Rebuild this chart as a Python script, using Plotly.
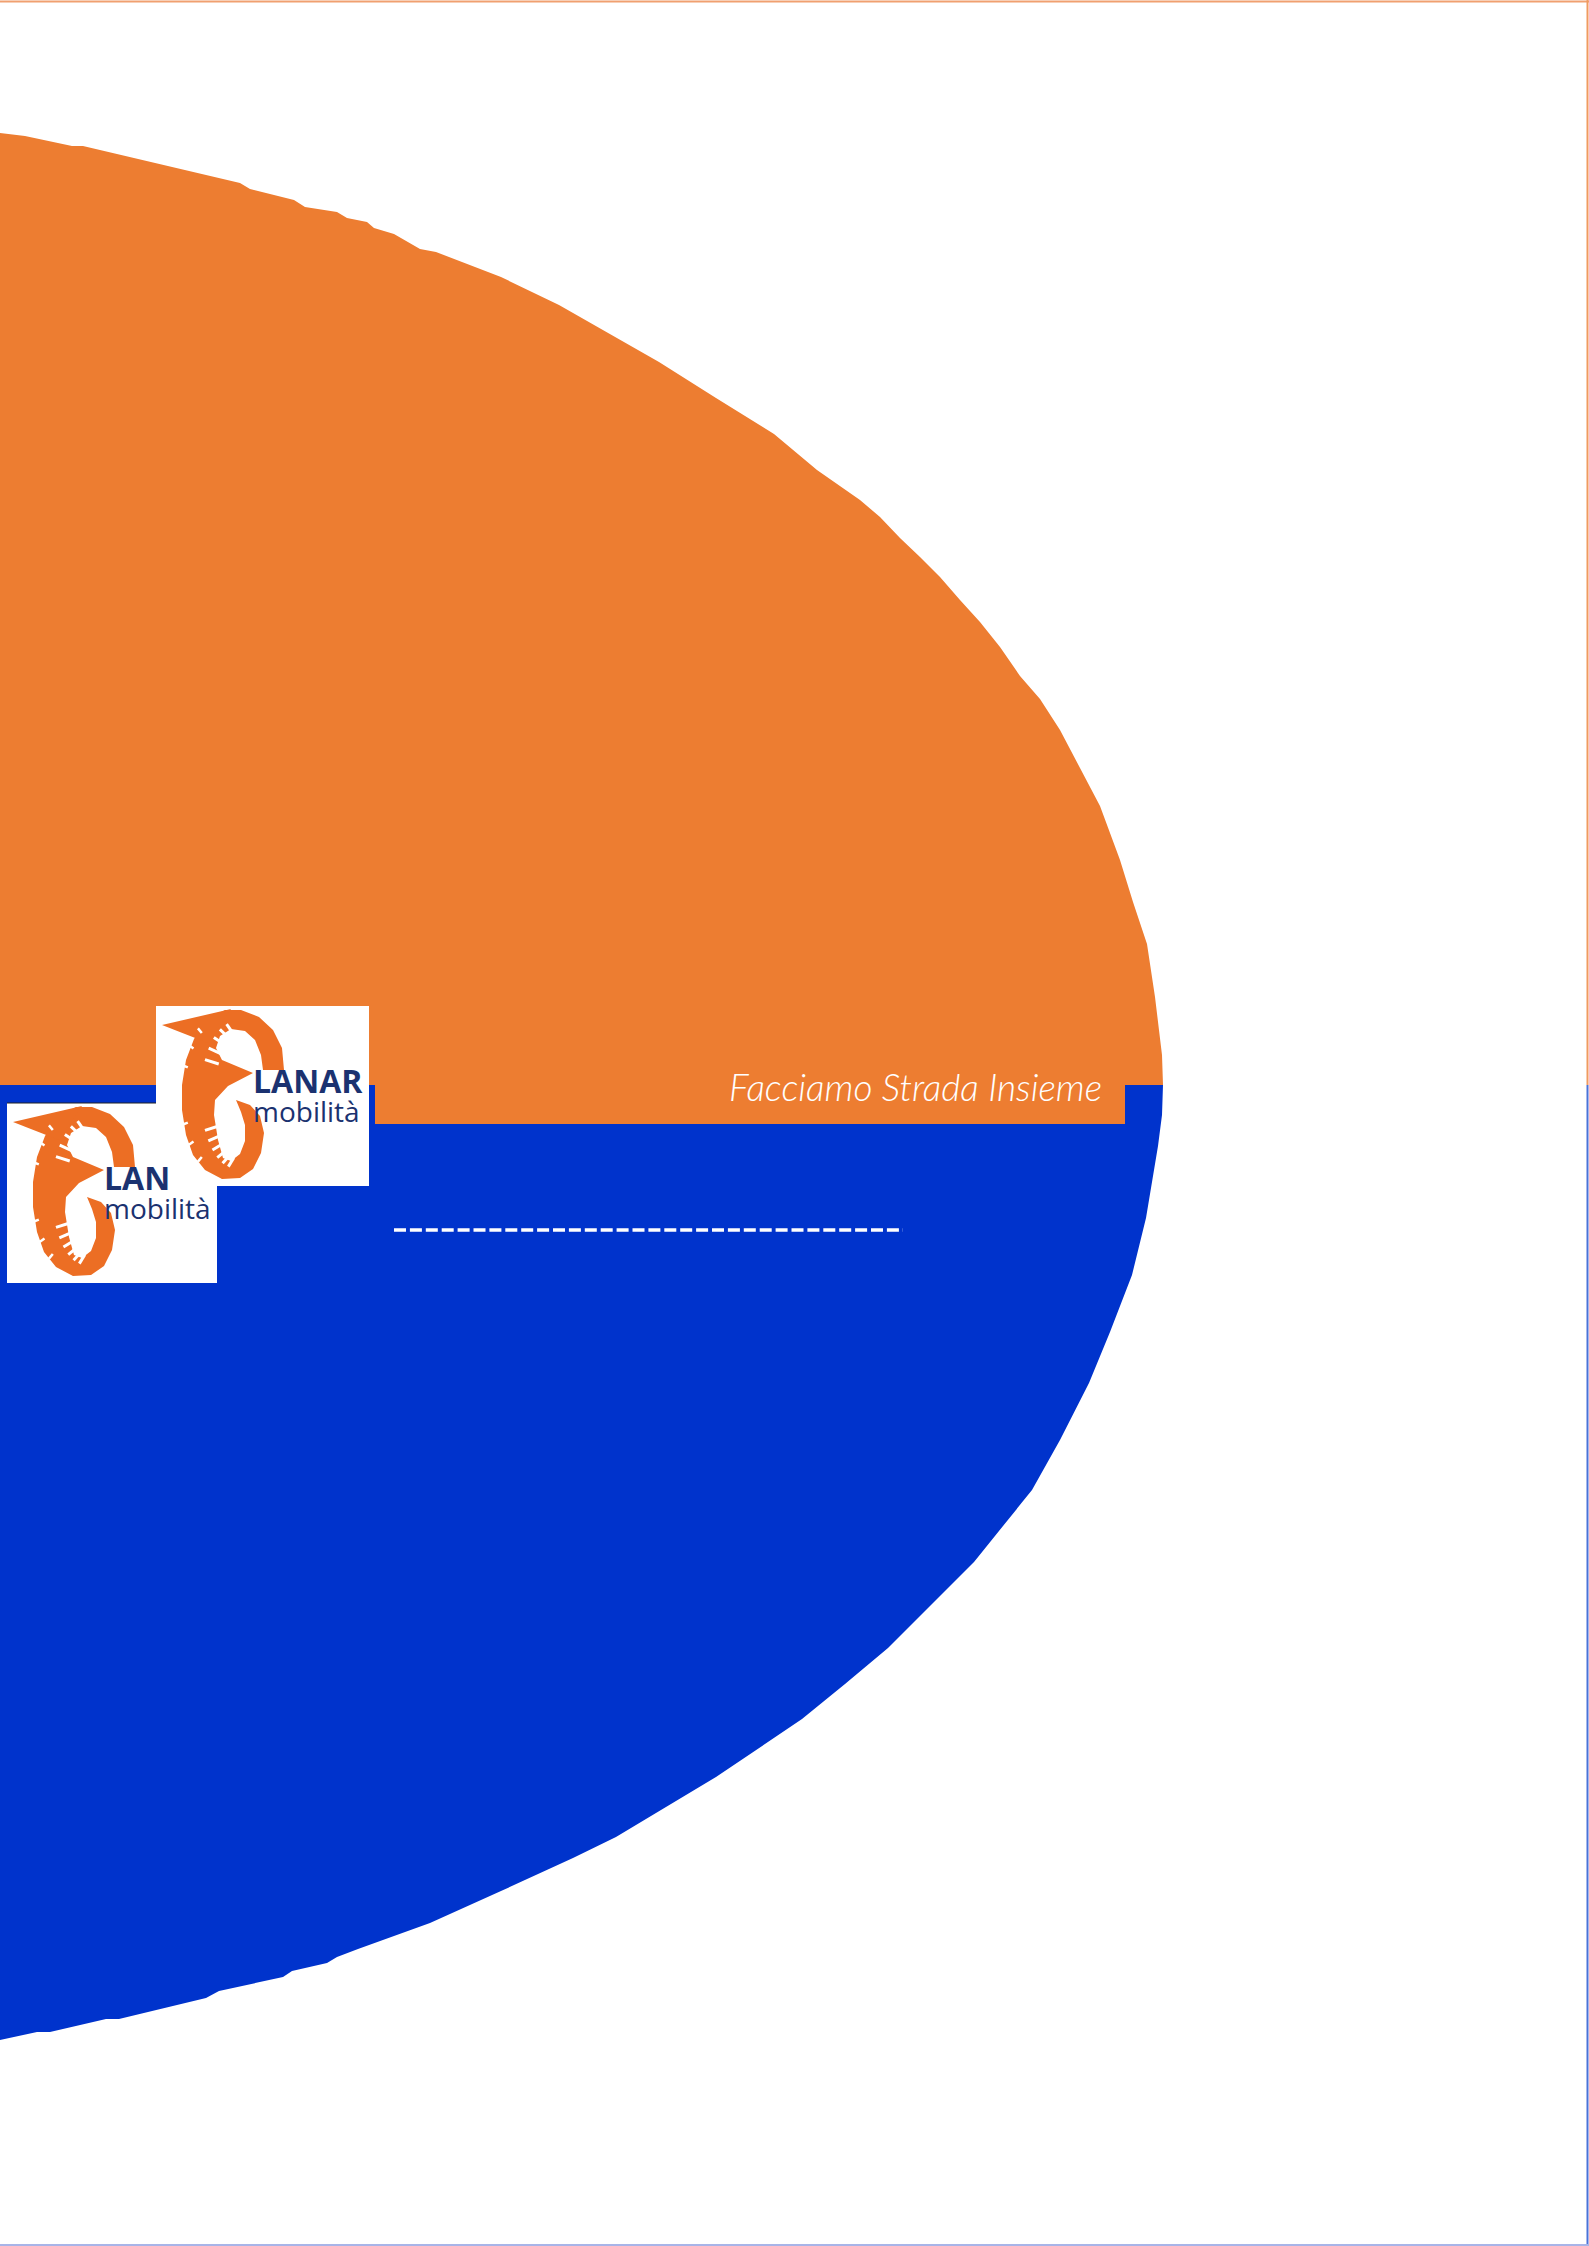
import math
import plotly.graph_objects as go

# ---------------- data (page pixel coordinates) -------------
TOP_X = [0, 25, 72, 83, 240, 250, 294, 305, 337, 347, 367, 374, 394, 410, 420, 436,
         501, 559, 616, 659, 716, 774, 817, 860, 880, 900, 920, 940, 960, 980, 1000, 1020,
         1040, 1060, 1080, 1100, 1120, 1133, 1147, 1155, 1162, 1163]
TOP_Y = [133, 136, 146, 146, 183, 189, 200, 207, 212, 218, 222, 228, 234, 243, 249, 252,
         277, 305, 337, 362, 398, 434, 470, 500, 517, 538, 557, 577, 600, 622, 647, 676,
         699, 730, 768, 806, 860, 902, 944, 997, 1055, 1085]
BOT_X = [1163, 1162, 1158, 1146, 1132, 1110, 1089, 1060, 1032, 1003, 974, 931, 888, 845, 802,
         716, 616, 573, 501, 430, 358, 337, 327, 292, 283, 219, 206, 119, 106, 50, 37, 0]
BOT_Y = [1085, 1115, 1146, 1218, 1275, 1332, 1383, 1440, 1490, 1526, 1562, 1605, 1648, 1684,
         1719, 1777, 1837, 1858, 1891, 1923, 1949, 1957, 1963, 1971, 1977, 1991, 1998, 2019,
         2019, 2032, 2032, 2040]
MID_Y = 1085

SLOGAN = "Facciamo Strada Insieme"
LOGO_WORD = "LANAR"
LOGO_WORD_CUT = "LAN"
LOGO_SUB = "mobilità"

ORANGE = "#ED7D31"
LOGO_ORANGE = "#EC6E24"
BLUE = "#0033CC"
NAVY = "#1B3270"
W, H = 1589, 2246

# outline of the "C" emblem of the logo (front logo coordinates)
C_OUTLINE = [(284, 1070), (282, 1048), (273, 1030), (259, 1017), (241, 1010), (225, 1010),
             (206, 1020), (194, 1039), (186, 1060), (182, 1085), (182, 1110), (186, 1135),
             (193, 1155), (205, 1170), (222, 1179), (240, 1178), (253, 1169), (261, 1153),
             (264, 1133), (260, 1116), (250, 1105), (236, 1100), (241, 1112), (245, 1125),
             (245, 1141), (240, 1154), (231, 1161), (223, 1158), (218, 1140), (214, 1115),
             (215, 1100), (228, 1086), (253, 1073), (222, 1060), (216, 1048), (220, 1036),
             (231, 1029), (245, 1031), (255, 1040), (261, 1055), (263, 1070)]
ARROW_HEAD = [(162, 1025), (231, 1009), (208, 1043)]

fig = go.Figure()

# upper (orange) half of the ellipse
fig.add_trace(go.Scatter(
    x=TOP_X + [0], y=TOP_Y + [MID_Y], mode="lines", fill="toself",
    fillcolor=ORANGE, line=dict(width=0, color=ORANGE), hoverinfo="skip", showlegend=False))
# lower (blue) half
fig.add_trace(go.Scatter(
    x=[0] + BOT_X[::-1], y=[MID_Y] + BOT_Y[::-1],
    mode="lines", fill="toself",
    fillcolor=BLUE, line=dict(width=0, color=BLUE), hoverinfo="skip", showlegend=False))

shapes = []
annotations = []

# orange slogan strip
shapes.append(dict(type="rect", x0=375, x1=1125, y0=MID_Y - 1, y1=1124,
                   fillcolor=ORANGE, line=dict(width=0)))

# white dashed rule
shapes.append(dict(type="line", x0=394, x1=903, y0=1230, y1=1230,
                   line=dict(color="white", width=3.5, dash="12px,3.9px")))

# page border
shapes.append(dict(type="line", x0=0, x1=W, y0=1.5, y1=1.5, line=dict(color="#F0A070", width=2)))
shapes.append(dict(type="line", x0=W - 1.5, x1=W - 1.5, y0=0, y1=MID_Y, line=dict(color="#F09A60", width=2)))
shapes.append(dict(type="line", x0=W - 1.5, x1=W - 1.5, y0=MID_Y, y1=H, line=dict(color="#4A72D8", width=2)))
shapes.append(dict(type="line", x0=0, x1=W, y0=H - 1, y1=H - 1, line=dict(color="#A8B4E8", width=2)))


def poly(pts, dx, dy):
    return "M " + " L ".join(f"{x + dx:.1f},{y + dy:.1f}" for x, y in pts) + " Z"


def logo(dx, dy, x_right):
    s = []
    s.append(dict(type="rect", x0=156 + dx, x1=x_right + dx, y0=1006 + dy, y1=1186 + dy,
                  fillcolor="white", line=dict(width=0)))
    s.append(dict(type="path", path=poly(C_OUTLINE, dx, dy), fillcolor=LOGO_ORANGE, line=dict(width=0)))
    s.append(dict(type="path", path=poly(ARROW_HEAD, dx, dy), fillcolor=LOGO_ORANGE, line=dict(width=0)))
    # teeth slots cut from the hole into the band
    for ang in [104, 116, 128, 140, 151, 209, 219, 229, 239, 249, 259]:
        a = math.radians(ang)
        xi, yi = 238 + 22 * math.cos(a), 1095 - 64 * math.sin(a)
        xo, yo = 231 + 49 * math.cos(a), 1095 - 84 * math.sin(a)
        x1, y1 = xi + 0.0 * (xo - xi), yi + 0.0 * (yo - yi)
        x2, y2 = xi + 0.45 * (xo - xi), yi + 0.45 * (yo - yi)
        s.append(dict(type="line", x0=x1 + dx, y0=y1 + dy, x1=x2 + dx, y1=y2 + dy,
                      line=dict(color="white", width=3)))
    # outer notches of the gear
    for ang in [130, 145, 160, 200, 215, 230]:
        a = math.radians(ang)
        x1, y1 = 232 + 47 * math.cos(a), 1095 - 81 * math.sin(a)
        x2, y2 = 232 + 53 * math.cos(a), 1095 - 87 * math.sin(a)
        s.append(dict(type="line", x0=x1 + dx, y0=y1 + dy, x1=x2 + dx, y1=y2 + dy,
                      line=dict(color="white", width=2.5)))
    return s


# second (back) logo, then the front logo
shapes += logo(-149, 97, 366)
shapes.append(dict(type="line", x0=7, x1=156, y0=1103, y1=1103, line=dict(color="#222222", width=1)))
shapes += logo(0, 0, 369)

annotations.append(dict(x=1104, y=1086, xref="x", yref="y", text=SLOGAN, showarrow=False,
                        xanchor="right", yanchor="middle",
                        font=dict(family="Lato", size=37, color="white", style="italic", weight=300)))


def logo_text(dx, dy, word):
    txt = (f"<b><span style='font-size:32px'>{word}</span></b><br>"
           f"<span style='font-size:28px'>{LOGO_SUB}</span>")
    annotations.append(dict(x=252 + dx, y=1094 + dy, xref="x", yref="y", text=txt, showarrow=False,
                            xanchor="left", yanchor="middle", align="left", borderpad=0,
                            font=dict(family="Open Sans", size=22, color=NAVY)))


logo_text(0, 0, LOGO_WORD)
logo_text(-149, 97, LOGO_WORD_CUT)

fig.update_layout(
    width=W, height=H, margin=dict(l=0, r=0, t=0, b=0, pad=0),
    paper_bgcolor="white", plot_bgcolor="white",
    xaxis=dict(range=[0, W], visible=False, fixedrange=True),
    yaxis=dict(range=[H, 0], visible=False, fixedrange=True),
    shapes=shapes, annotations=annotations, showlegend=False,
)

fig.write_html("out.html", config={"displayModeBar": False},
               post_script="document.body.style.margin='0';document.body.style.overflow='hidden';")
